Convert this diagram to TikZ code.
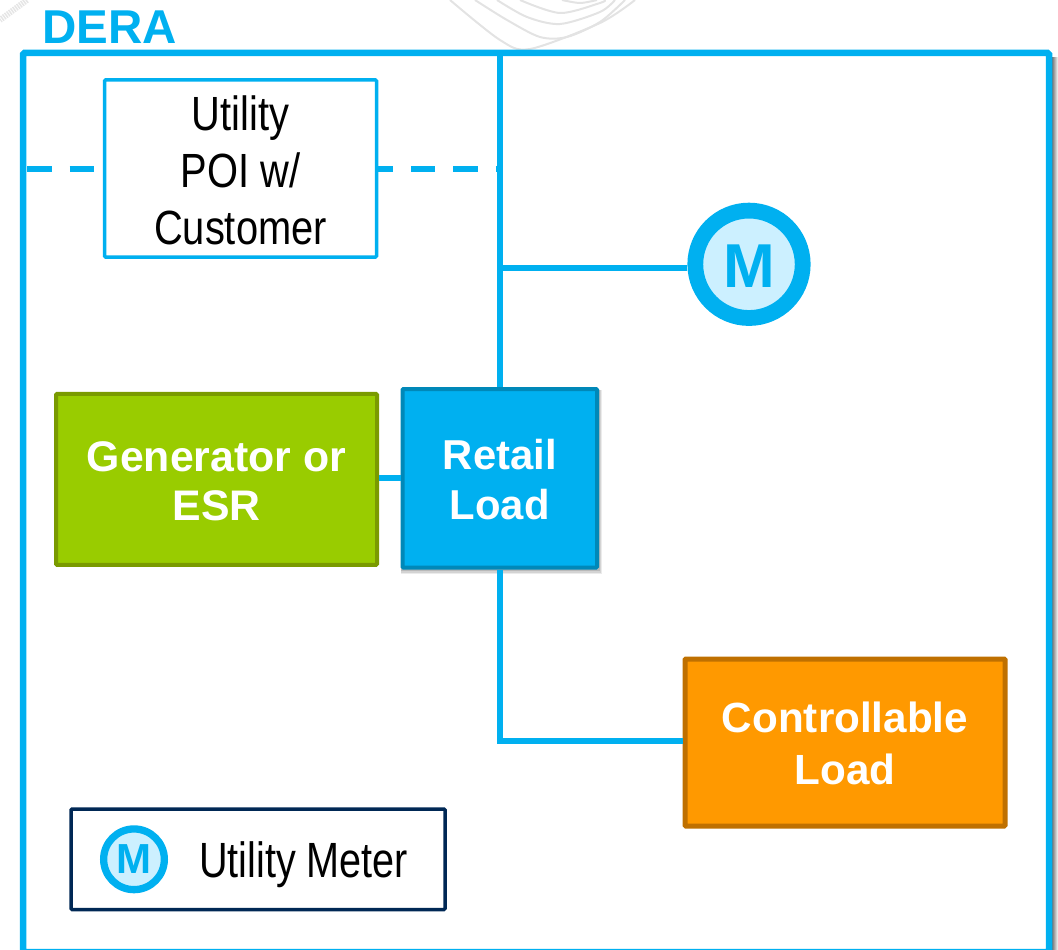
\documentclass[tikz,border=0pt]{standalone}
\usepackage{fontspec}
\setmainfont{Liberation Sans}
\newfontfamily\condfont[FakeStretch=0.83]{Liberation Sans}
\newfontfamily\legendfont[FakeStretch=0.8]{Liberation Sans}
\definecolor{derablue}{HTML}{00B0F0}
\definecolor{meterfill}{HTML}{CCF0FF}
\definecolor{retailedge}{HTML}{0088B8}
\definecolor{genfill}{HTML}{99CC00}
\definecolor{genedge}{HTML}{7A9A00}
\definecolor{ctrlfill}{HTML}{FF9900}
\definecolor{ctrledge}{HTML}{BF7000}
\definecolor{navy}{HTML}{002855}
\tikzset{
  wire/.style={draw=derablue,line width=6pt},
  dashwire/.style={wire,dash pattern=on 24.5pt off 18pt},
  framebox/.style={draw=derablue,line width=6.5pt,rounded corners=1.5pt,minimum width=1026pt,minimum height=899pt,inner sep=0pt},
  poibox/.style={draw=derablue,fill=white,line width=3.5pt,rounded corners=1pt,minimum width=272pt,minimum height=177pt,inner sep=0pt,align=center,font=\condfont\fontsize{48}{57}\selectfont},
  solidbox/.style={line width=4pt,rounded corners=1pt,inner sep=0pt,align=center,text=white,font=\bfseries\fontsize{42.8}{49.5}\selectfont},
  meterring/.style={circle,draw=derablue,fill=meterfill,inner sep=0pt,text=derablue,font=\bfseries},
  wave/.style={draw=black!11,line width=2pt},
}
\begin{document}
\begin{tikzpicture}[x=1pt,y=-1pt]
\useasboundingbox (0,0) rectangle (1058,950);
% faint watermark behind the figure
\draw[wave] plot[smooth] coordinates {(450,0) (500,40) (530,49) (600,23) (635,0)};
\draw[wave] plot[smooth] coordinates {(475,0) (507,20) (540,37) (567,37) (600,22) (625,0)};
\draw[wave] plot[smooth] coordinates {(497,0) (527,17) (560,24) (600,12) (615,0)};
\draw[wave] plot[smooth] coordinates {(520,0) (560,13) (600,3) (605,0)};
\draw[wave] plot[smooth] coordinates {(562,0) (580,3) (597,0)};
\draw[draw=black!10,line width=6pt,dash pattern=on 1.5pt off 1pt] (27,0) -- (0,20);
% frame shadow
\shade[left color=black!55,right color=white] (1052,58) rectangle (1058,950);
\node[framebox] (frame) at (536,502.5) {};
\node[anchor=base west,inner sep=0pt,text=derablue,font=\bfseries\fontsize{47.5}{50}\selectfont] (title) at (42,44) {DERA};
% retail shadow
\fill[black,opacity=.08] (401,390) rectangle (602,574);
\fill[black,opacity=.10] (401,390) rectangle (601,572.5);
\fill[black,opacity=.12] (401,390) rectangle (600,571);
% nodes
\node[poibox] (poi) at (240.5,168.5) {\rule{0pt}{39pt}Utility\\POI w/\\Customer};
\node[meterring,line width=15.8pt,minimum size=107.4pt,font=\bfseries\fontsize{62}{62}\selectfont] (meter) at (749,264.3) {\rule{0pt}{46.5pt}M};
\node[solidbox,draw=genedge,fill=genfill,minimum width=321pt,minimum height=171pt] (gen) at (216.5,479.4) {\rule{0pt}{34pt}Generator or\\ESR};
\node[solidbox,draw=retailedge,fill=derablue,minimum width=194.5pt,minimum height=178.5pt,font=\bfseries\fontsize{41.8}{50}\selectfont] (retail) at (499.75,478.25) {\rule{0pt}{32pt}Retail\\Load};
\node[solidbox,line width=5pt,draw=ctrledge,fill=ctrlfill,minimum width=320pt,minimum height=167pt,font=\bfseries\fontsize{42.2}{52}\selectfont] (ctrl) at (845,742.5) {\rule{0pt}{33pt}Controllable\\Load};
\node[draw=navy,fill=white,line width=3.5pt,rounded corners=1pt,minimum width=374pt,minimum height=100.5pt,inner sep=0pt] (legend) at (258,859.25) {};
\node[meterring,line width=7.3pt,minimum size=60.7pt,font=\bfseries\fontsize{42}{42}\selectfont] (legendmeter) at (134,859.3) {M};
\node[anchor=base west,inner sep=0pt,font=\legendfont\fontsize{49.5}{50}\selectfont] (legendtext) at (199,877) {Utility Meter};
% connectors
\coordinate (leftend) at (27,168.5);
\coordinate (tap) at (500,268);
\draw[wire] (retail.north) -- (retail.north |- frame.north);
\draw[dashwire] (leftend) -- (poi.west);
\draw[dashwire,dash phase=10pt] (poi.east) -- (poi.east -| retail.north);
\draw[wire] (tap) -- (tap -| meter.west);
\draw[wire] (retail.west) -- (retail.west -| gen.east);
\draw[wire] (retail.south) |- ([yshift=1.5pt]ctrl.west);
\end{tikzpicture}
\end{document}
